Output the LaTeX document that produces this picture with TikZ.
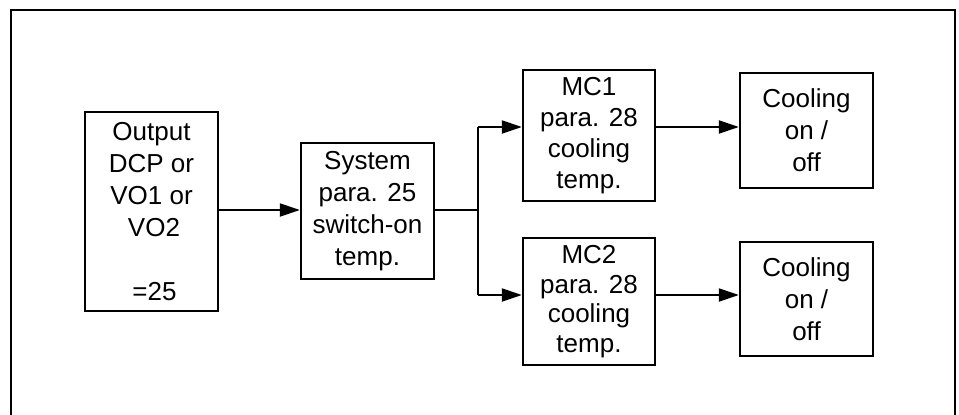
\documentclass[tikz,border=0pt]{standalone}
\usepackage{fontspec}
\setmainfont{Liberation Sans}
\usetikzlibrary{arrows.meta}
\begin{document}
\begin{tikzpicture}[x=1pt,y=-1pt,
  blk/.style={draw,line width=2.3pt,rectangle,inner sep=0pt,align=center,
    font=\fontsize{26}{32}\selectfont},
  conn/.style={line width=2.1pt},
  arr/.style={conn,-{Triangle[length=20pt,width=13pt]}}]
\useasboundingbox (0,0) rectangle (959,415);
% outer frame (bottom edge cut off)
\draw[line width=2.3pt] (11,420) -- (11,10) -- (955,10) -- (955,420);
% blocks
\node[blk,minimum width=133pt,minimum height=199pt] (b1) at (151.5,211.5)
  {Output\\DCP or\\VO1 or\\\hspace*{5pt}VO2\\[32pt]\hspace*{6pt}=25};
\node[blk,minimum width=133pt,minimum height=136pt] (b2) at (367.5,211)
  {System\\para. 25\\switch-on\\temp.};
\node[blk,minimum width=132pt,minimum height=131pt,
  font=\fontsize{26}{31}\selectfont] (mc1) at (589,135.5)
  {MC1\\para. 28\\cooling\\temp.};
\node[blk,minimum width=132pt,minimum height=127pt,
  font=\fontsize{26}{29.5}\selectfont] (mc2) at (589,301.5)
  {MC2\\para. 28\\cooling\\temp.};
\node[blk,minimum width=133pt,minimum height=115pt] (c1) at (806.5,130.5)
  {Cooling\\on /\\off};
\node[blk,minimum width=133pt,minimum height=114pt] (c2) at (806.5,299)
  {Cooling\\on /\\off};
% junction coordinates
\coordinate (j) at (478,210);
\coordinate (j1) at (478,127);
\coordinate (j2) at (478,295);
% connectors
\draw[arr] (b1.east |- j) -- (b2.west |- j);
\draw[conn] (b2.east |- j) -- (j);
\draw[conn] (j1) -- (j2);
\draw[arr] (j1) -- (mc1.west |- j1);
\draw[arr] (j2) -- (mc2.west |- j2);
\draw[arr] (mc1.east |- j1) -- (c1.west |- j1);
\draw[arr] (mc2.east |- j2) -- (c2.west |- j2);
\end{tikzpicture}
\end{document}
